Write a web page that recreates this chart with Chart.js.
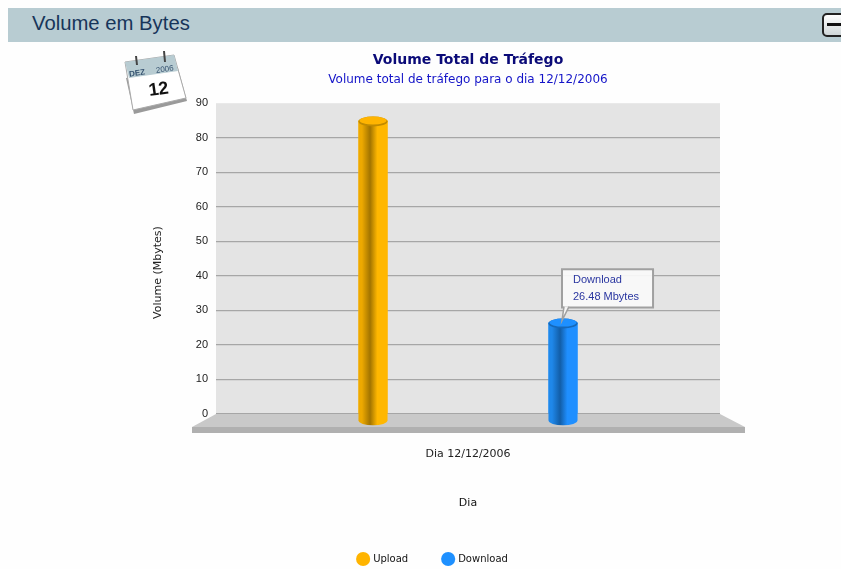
<!DOCTYPE html>
<html>
<head>
<meta charset="utf-8">
<title>Volume em Bytes</title>
<script src="https://cdn.jsdelivr.net/npm/chart.js@4/dist/chart.umd.js"></script>
<style>
  html, body { margin: 0; padding: 0; background: #fefefe; overflow: hidden; }
  #wrap { position: relative; width: 841px; height: 569px; overflow: hidden; }
  #head { position: absolute; left: 8px; top: 8px; right: 0; height: 34px; background: #b8ccd2; }
  #head span { position: absolute; left: 24px; top: 4px; font: 20.3px "Liberation Sans", Arial, sans-serif; color: #17355a; }
  #btn { position: absolute; left: 814px; top: 5px; width: 30px; height: 24px; box-sizing: border-box; border: 2px solid #222; border-radius: 5px; background: linear-gradient(#fff, #cfd6d8); }
  #btn i { position: absolute; left: 3px; top: 8px; width: 16px; height: 3px; background: #111; }
  canvas { position: absolute; left: 0; top: 0; }
  #cal { position: absolute; left: 120px; top: 48px; z-index: 2; }
</style>
</head>
<body>
<div id="wrap">
  <canvas id="chart" width="841" height="569"></canvas>
  <div id="head"><span>Volume em Bytes</span><div id="btn"><i></i></div></div>
  <svg id="cal" width="72" height="70" viewBox="0 0 72 70">
    <polygon points="6,30 58,20 67,53 14,66" fill="#9a9a9a"/>
    <polygon points="5,14 54,7 66,50 13,62" fill="#fff" stroke="#aaa" stroke-width="1"/>
    <polygon points="5,14 54,7 58,23 9,30" fill="#b8ccd2"/>
    <line x1="16" y1="8" x2="17" y2="17" stroke="#444" stroke-width="2"/>
    <line x1="44" y1="3" x2="45" y2="14" stroke="#444" stroke-width="2"/>
    <g transform="rotate(-8 36 30)">
      <text x="10" y="25" font-family="Liberation Sans" font-size="8" font-weight="bold" fill="#33506e">DEZ</text>
      <text x="37" y="25" font-family="Liberation Sans" font-size="8" fill="#33506e">2006</text>
      <text x="27" y="47" font-family="Liberation Sans" font-size="18" font-weight="bold" fill="#111">12</text>
    </g>
  </svg>
</div>
<script>
const categories = ['Dia 12/12/2006'];
const uploadValues = [85];
const downloadValues = [26.48];
const yTicks = [0, 10, 20, 30, 40, 50, 60, 70, 80, 90];

const tickFont = { family: 'Liberation Sans', size: 11 };
const textFont = { family: 'DejaVu Sans', size: 11 };

// plot background, floor and the cylinder look around the plain bars
const cylinders = {
  id: 'cylinders',
  beforeDraw(chart) {
    const a = chart.chartArea, c = chart.ctx;
    c.save();
    c.fillStyle = '#e4e4e4';
    c.fillRect(a.left, a.top, a.width, a.height);
    c.restore();
  },
  beforeDatasetsDraw(chart) {
    const a = chart.chartArea, c = chart.ctx;
    c.save();
    c.fillStyle = '#c9c9c9';
    c.beginPath();
    c.moveTo(a.left, a.bottom);
    c.lineTo(a.right, a.bottom);
    c.lineTo(a.right + 25, a.bottom + 13);
    c.lineTo(a.left - 24, a.bottom + 13);
    c.closePath();
    c.fill();
    c.fillStyle = '#b0b0b0';
    c.fillRect(a.left - 24, a.bottom + 13, a.width + 49, 6);
    c.restore();
  },
  afterDatasetsDraw(chart) {
    const c = chart.ctx;
    const looks = [
      { edge: '#eda900', dark: '#a27400', light: '#ffb700', rim: '#c08a00', top: '#ffb400' },
      { edge: '#1f88ea', dark: '#125ea8', light: '#1f8fff', rim: '#1668b8', top: '#1e90ff' }
    ];
    chart.data.datasets.forEach((ds, i) => {
      const el = chart.getDatasetMeta(i).data[0];
      const look = looks[i];
      const w = el.width, left = el.x - w / 2, baseY = el.base + 7;
      const g = c.createLinearGradient(left, 0, left + w, 0);
      g.addColorStop(0, look.edge);
      g.addColorStop(0.12, look.edge);
      g.addColorStop(0.4, look.dark);
      g.addColorStop(0.65, look.light);
      g.addColorStop(1, look.light);
      c.save();
      c.fillStyle = g;
      c.beginPath();
      c.moveTo(left, el.y);
      c.lineTo(left + w, el.y);
      c.lineTo(left + w, baseY);
      c.ellipse(el.x, baseY, w / 2, 5, 0, 0, Math.PI);
      c.closePath();
      c.fill();
      c.fillStyle = look.rim;
      c.beginPath();
      c.ellipse(el.x, el.y + 1, w / 2, 5, 0, 0, Math.PI * 2);
      c.fill();
      c.fillStyle = look.top;
      c.beginPath();
      c.ellipse(el.x, el.y, w / 2 - 1, 4, 0, 0, Math.PI * 2);
      c.fill();
      c.restore();
    });
  },
  afterLayout(chart) {
    // legend sits left of the plot centre in the original
    chart.legend.left -= 35;
    chart.legend.right -= 35;
  },
  afterDraw(chart) {
    // slanted callout tail, the tooltip's own caret is always symmetric
    const t = chart.tooltip, c = chart.ctx;
    if (!t || !t.getActiveElements().length) return;
    const el = t.getActiveElements()[0].element;
    const bottom = t.y + t.height;
    c.save();
    c.fillStyle = 'rgba(250,250,250,0.92)';
    c.strokeStyle = '#a0a0a0';
    c.lineWidth = 1.5;
    c.beginPath();
    c.moveTo(t.x + 2, bottom - 1);
    c.lineTo(el.x - 1, el.y - 2);
    c.lineTo(t.x + 7, bottom - 1);
    c.fill();
    c.stroke();
    c.restore();
  }
};

Chart.Tooltip.positioners.barTop = function (items) {
  if (!items.length) return false;
  const el = items[0].element;
  return { x: el.x - 1, y: el.y - 15 };
};

const chart = new Chart(document.getElementById('chart'), {
  type: 'bar',
  data: {
    labels: categories,
    datasets: [
      { label: 'Upload', data: uploadValues, backgroundColor: '#ffb400' },
      { label: 'Download', data: downloadValues, backgroundColor: '#1e90ff' }
    ]
  },
  plugins: [cylinders],
  options: {
    responsive: false,
    animation: false,
    events: [],
    categoryPercentage: 0.754,
    barPercentage: 0.153,
    layout: { padding: { left: 0, right: 121, top: 52, bottom: -5 } },
    scales: {
      x: {
        grid: { display: false },
        border: { display: false },
        ticks: { color: '#222', font: textFont, padding: 26 },
        title: { display: true, text: 'Dia', color: '#111', font: textFont, padding: { top: 31, bottom: 9 } },
        afterFit(scale) { scale.height = 105; }
      },
      y: {
        min: 0,
        max: 90,
        afterBuildTicks(scale) { scale.ticks = yTicks.map(v => ({ value: v })); },
        grid: {
          color: ctx => (ctx.tick && ctx.tick.value === 90 ? 'rgba(0,0,0,0)' : '#a6a6a6'),
          lineWidth: 1.3,
          drawTicks: false
        },
        border: { display: false },
        ticks: { color: '#222', font: tickFont, padding: 8 },
        // trailing spaces push the rotated label down, it is not centred on the plot in the original
        title: { display: true, text: 'Volume (Mbytes)        ', color: '#222', font: textFont, padding: { top: 152, bottom: 0 } },
        afterFit(scale) { scale.width = 216; }
      }
    },
    plugins: {
      title: {
        display: true,
        fullSize: false,
        text: 'Volume Total de Tráfego',
        color: '#0a0a78',
        font: { family: 'DejaVu Sans', size: 14, weight: 'bold' },
        padding: { top: 0, bottom: 4 }
      },
      subtitle: {
        display: true,
        fullSize: false,
        text: 'Volume total de tráfego para o dia 12/12/2006',
        color: '#1414c8',
        font: { family: 'DejaVu Sans', size: 12 },
        padding: { top: 0, bottom: 16 }
      },
      legend: {
        position: 'bottom',
        fullSize: false,
        labels: { usePointStyle: true, pointStyle: 'circle', boxWidth: 11, boxHeight: 11, color: '#111', font: { family: 'DejaVu Sans', size: 10 }, padding: 35 }
      },
      tooltip: {
        enabled: true,
        animation: false,
        position: 'barTop',
        xAlign: 'left',
        yAlign: 'bottom',
        displayColors: false,
        backgroundColor: 'rgba(250,250,250,0.92)',
        borderColor: '#a0a0a0',
        borderWidth: 2,
        cornerRadius: 0,
        caretSize: 0,
        caretPadding: 0,
        padding: { left: 11, right: 14, top: 4, bottom: 4 },
        titleColor: '#2a36a0',
        bodyColor: '#2a36a0',
        titleFont: { family: 'Liberation Sans', size: 11, weight: 'normal' },
        bodyFont: { family: 'Liberation Sans', size: 11 },
        titleMarginBottom: 4,
        callbacks: {
          title: items => items[0].dataset.label,
          label: item => item.raw + ' Mbytes'
        }
      }
    }
  }
});

chart.tooltip.setActiveElements([{ datasetIndex: 1, index: 0 }], { x: 0, y: 0 });
chart.update();
</script>
</body>
</html>
